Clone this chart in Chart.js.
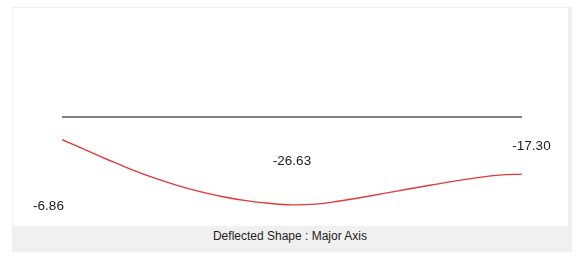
<!DOCTYPE html>
<html>
<head>
<meta charset="utf-8">
<script src="https://cdn.jsdelivr.net/npm/chart.js@4"></script>
<style>
    html, body { margin: 0; padding: 0; background: #fff; }
    #wrap { position: relative; width: 577px; height: 258px; overflow: hidden; }
    #frame { position: absolute; left: 12px; top: 7px; width: 560px; height: 245px; background: #f0f0f0; }
    #plot { position: absolute; left: 13px; top: 8px; width: 555px; height: 218px; background: #fff; }
    #caption { position: absolute; left: 12px; top: 229px; width: 556px; height: 20px; line-height: 18px;
        text-align: center; font: 12px "Liberation Sans", Arial, sans-serif; color: #222; }
    #chart { position: absolute; left: 0; top: 0; }
</style>
</head>
<body>
<div id="wrap">
    <div id="frame"></div>
    <div id="plot"></div>
    <div id="caption">Deflected Shape : Major Axis</div>
    <canvas id="chart" width="577" height="258"></canvas>
</div>
<script>
// stations along the member (0..20)
const stations = [0, 1, 2, 3, 4, 5, 6, 7, 8, 9, 10, 11, 12, 13, 14, 15, 16, 17, 18, 19, 20]
// undeformed axis
const baseline = [0, 0, 0, 0, 0, 0, 0, 0, 0, 0, 0, 0, 0, 0, 0, 0, 0, 0, 0, 0, 0]
// deflection values
const deflection = [-6.86, -9.9, -12.95, -15.85, -18.45, -20.7, -22.6, -24.15, -25.35, -26.15, -26.63,
    -26.4, -25.55, -24.4, -23.15, -21.9, -20.7, -19.5, -18.45, -17.6, -17.30]
// value labels and the station they belong to
const valueLabels = ['-6.86', '-26.63', '-17.30']
const labelStations = [0, 10, 20]

function toPoints(values) {
    return stations.map((s, i) => ({ x: s, y: values[i] }))
}

// where each label sits relative to its station (px)
const labelOffsets = [{ dx: -13.5, dy: 67 }, { dx: 0, dy: -44 }, { dx: 9.5, dy: -28 }]

const valueLabelPlugin = {
    id: 'valueLabels',
    afterDatasetsDraw(chart) {
        const ctx = chart.ctx
        const xs = chart.scales.x
        const ys = chart.scales.y
        ctx.save()
        ctx.font = '13.5px "Liberation Sans", Arial, sans-serif'
        ctx.fillStyle = '#222'
        ctx.textAlign = 'center'
        ctx.textBaseline = 'middle'
        for (let i = 0; i < valueLabels.length; i++) {
            const s = labelStations[i]
            const px = xs.getPixelForValue(s) + labelOffsets[i].dx
            const py = ys.getPixelForValue(deflection[s]) + labelOffsets[i].dy
            ctx.fillText(valueLabels[i], px, py)
        }
        ctx.restore()
    }
}

let chart = new Chart(document.getElementById('chart'), {
    type: 'line',
    data: {
        datasets: [
            {
                label: 'Axis',
                data: toPoints(baseline),
                borderColor: '#808080',
                borderWidth: 2,
                pointRadius: 0,
                tension: 0
            },
            {
                label: 'Deflection',
                data: toPoints(deflection),
                borderColor: '#e23a3a',
                borderWidth: 1.4,
                pointRadius: 0,
                tension: 0.4
            }
        ]
    },
    options: {
        responsive: false,
        animation: false,
        events: [],
        layout: { padding: { left: 62, right: 55, top: 51, bottom: 9 } },
        scales: {
            x: { type: 'linear', min: 0, max: 20, display: false },
            y: { type: 'linear', min: -40, max: 20, display: false }
        },
        plugins: {
            legend: { display: false },
            tooltip: { enabled: false }
        }
    },
    plugins: [valueLabelPlugin]
})
</script>
</body>
</html>
